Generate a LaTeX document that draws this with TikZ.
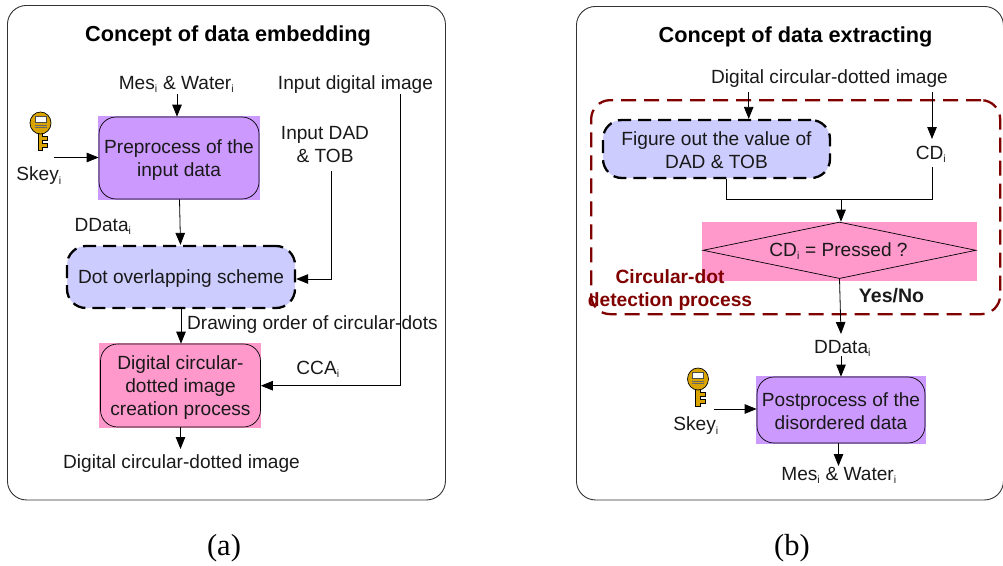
\documentclass[tikz,border=0pt]{standalone}
\usepackage{fontspec}
\setmainfont{Liberation Sans}
\newfontfamily\capfont{Liberation Serif}
\usetikzlibrary{arrows.meta,shapes.geometric}
\definecolor{lilac}{HTML}{CC99FF}
\definecolor{periw}{HTML}{CCCCFF}
\definecolor{rosepk}{HTML}{FF99CC}
\definecolor{maroonx}{HTML}{800000}
\definecolor{keyg}{HTML}{D9A400}
\tikzset{
  x=1pt,y=-1pt,
  panel/.style={draw=black!80,line width=0.9pt,rounded corners=19pt},
  txt/.style={inner sep=0pt,font=\fontsize{19.1}{23}\selectfont,align=center,text=black!90},
  ttl/.style={inner sep=0pt,font=\fontsize{21.7}{25}\selectfont\bfseries},
  redt/.style={inner sep=0pt,font=\fontsize{19.2}{23}\selectfont\bfseries,text=maroonx,align=center},
  capt/.style={inner sep=0pt,font=\capfont\fontsize{30.5}{34}\selectfont},
  bgbox/.style={fill=#1,inner sep=0pt},
  soft/.style={draw=black,line width=0.7pt,rounded corners=17pt},
  dashbox/.style={draw=black,fill=periw,line width=2.3pt,dash pattern=on 13pt off 7pt,rounded corners=19pt},
  conn/.style={draw=black,line width=0.8pt,-{Triangle[length=12pt,width=9.5pt]}},
  plain/.style={draw=black,line width=0.8pt},
}
\newcommand{\sbi}{\textsubscript{\fontsize{10.5}{11}\selectfont i}}
\newcommand{\tb}{\rule{0pt}{17pt}}
\newcommand{\keyglyph}[2]{%
  \begin{scope}[shift={(#1,#2)}]
    \fill[keyg,draw=black,line width=0.7pt] (-2.3,20) -- (-2.3,38) -- (2,38) -- (2,35) -- (7,35) -- (7,31) -- (2,31) -- (2,28) -- (7,28) -- (7,24) -- (2,24) -- (2,20) -- cycle;
    \fill[keyg,draw=black,line width=0.7pt] (0,11) circle[x radius=10.5pt,y radius=11pt];
    \fill[white,draw=black!70,line width=0.5pt] (-5.5,4.5) rectangle (5.5,10);
    \draw[black!60,line width=0.6pt] (-6,13) -- (6,13) (-6,15.5) -- (6,15.5);
  \end{scope}}
\begin{document}
\begin{tikzpicture}
\useasboundingbox (0,0) rectangle (1003,565);
% ---------- panel (a)
\node[panel,minimum width=438pt,minimum height=494.5pt,anchor=north west] (pa) at (7,5) {};
\node[ttl] (ta) at (228,35.5) {Concept of data embedding};
\node[txt] (mes) at (176.5,84) {Mes\sbi{} \& Water\sbi};
\node[txt] (idi) at (355.5,84.5) {Input digital image};
\node[bgbox=lilac,minimum width=162pt,minimum height=84pt] (pbg) at (179,158) {};
\node[soft,minimum width=160pt,minimum height=82pt,txt] (pre) at (179,158) {\tb Preprocess of the\\input data};
\node[txt] (dad) at (325,145) {Input DAD\\\& TOB};
\node[txt] (ska) at (39,176) {Skey\sbi};
\coordinate (kaend) at (54,157.5);
\keyglyph{40.5}{112}
\node[txt] (dda) at (103,226) {DData\sbi};
\node[dashbox,minimum width=228pt,minimum height=62pt,txt] (dot) at (181,277) {\tb Dot overlapping scheme};
\node[txt,anchor=west] (dord) at (187,325) {Drawing order of circular-dots};
\node[bgbox=rosepk,minimum width=162pt,minimum height=85pt] (cbg) at (180,385.5) {};
\node[soft,minimum width=160pt,minimum height=83pt,txt] (cre) at (180.5,385.5) {\tb Digital circular-\\dotted image\\creation process};
\node[txt] (cca) at (318,369.5) {CCA\sbi};
\node[txt] (dci) at (181.5,463.5) {Digital circular-dotted image};
\node[capt] (la) at (224,548) {(a)};
\draw[conn] (177,94) -- (pre.north -| 177,0);
\draw[conn] (kaend) -- (pre.west |- kaend);
\draw[conn] (pre.south -| 179.5,0) -- (dot.north -| 180.5,0);
\draw[conn] (331.5,171) -- (331.5,279) -- (dot.east |- 0,279);
\draw[conn] (400.5,94) -- (400.5,385.7) -- (cre.east |- 0,385.7);
\draw[conn] (dot.south -| 181,0) -- (cre.north -| 181,0);
\draw[conn] (cre.south -| 180.5,0) -- (180.5,449);
% ---------- panel (b)
\node[panel,minimum width=427pt,minimum height=493.5pt,anchor=north west] (pb) at (576,6) {};
\node[ttl] (tb) at (795.5,36.5) {Concept of data extracting};
\node[txt] (dcb) at (829.5,78.5) {Digital circular-dotted image};
\node[bgbox=rosepk,minimum width=275pt,minimum height=59pt] (dbg) at (839.5,251.5) {};
\node[draw=maroonx,line width=2.3pt,dash pattern=on 15pt off 8pt,rounded corners=19pt,minimum width=409pt,minimum height=214pt,anchor=north west] (red) at (590,99) {};
\node[dashbox,minimum width=227pt,minimum height=58pt,txt] (fig) at (716.5,149) {\tb Figure out the value of\\DAD \& TOB};
\node[txt] (cdi) at (931,154.5) {CD\sbi};
\node[diamond,draw=black,line width=0.7pt,aspect=4.85,minimum width=273pt,minimum height=56.5pt,inner sep=0pt] (dia) at (839.5,250.3) {};
\node[txt] (dtx) at (838.5,251) {CD\sbi{} = Pressed ?};
\node[redt] (cdp) at (670,290.5) {Circular-dot\\detection process};
\node[txt,font=\fontsize{19.5}{23}\selectfont\bfseries] (yn) at (891.5,295.5) {Yes/No};
\node[txt] (ddb) at (842.5,348) {DData\sbi};
\node[bgbox=lilac,minimum width=170pt,minimum height=68pt] (qbg) at (841,410) {};
\node[soft,minimum width=168pt,minimum height=66pt,txt] (post) at (841,410) {\tb Postprocess of the\\disordered data};
\node[txt] (skb) at (696,426) {Skey\sbi};
\coordinate (kbend) at (714,409);
\keyglyph{698}{368}
\node[txt] (mesb) at (839,475) {Mes\sbi{} \& Water\sbi};
\node[capt] (lb) at (792,548) {(b)};
\draw[conn] (748.7,92) -- (fig.north -| 748.7,0);
\draw[conn] (932,92) -- (932,139);
\draw[plain] (fig.south -| 726,0) -- (726,199.5) -- (932,199.5) -- (932,167);
\draw[conn] (841,199.5) -- (dia.north -| 841,0);
\draw[conn] (dia.south) -- (841,334);
\draw[conn] (841,356) -- (post.north -| 841,0);
\draw[conn] (kbend) -- (post.west |- kbend);
\draw[conn] (post.south -| 838.5,0) -- (838.5,466);
\end{tikzpicture}
\end{document}
